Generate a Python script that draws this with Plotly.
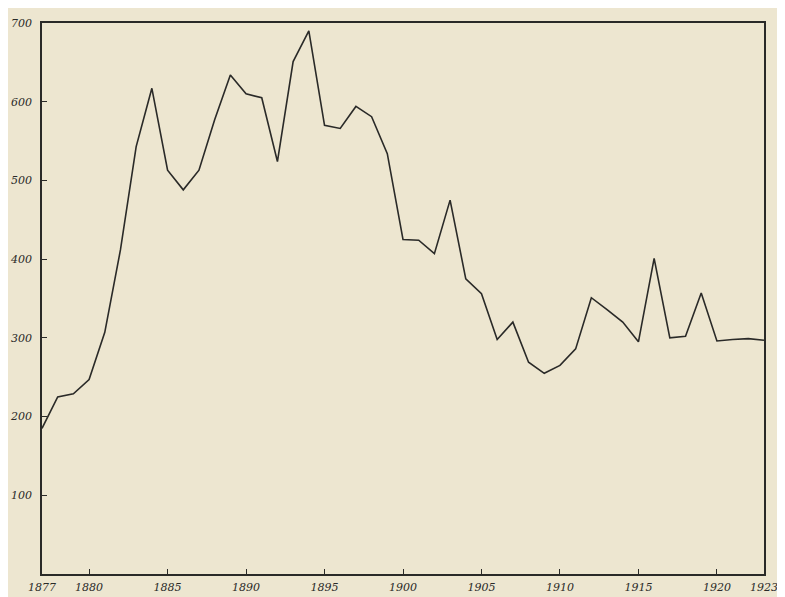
import plotly.graph_objects as go

years = list(range(1877, 1924))
values = [185, 225, 229, 247, 307, 412, 543, 617, 513, 488, 513, 577, 634, 610,
          605, 524, 651, 690, 570, 566, 594, 581, 534, 425, 424, 407, 475, 375,
          356, 298, 320, 269, 255, 265, 286, 351, 336, 320, 295, 401, 300, 302,
          357, 296, 298, 299, 297]
x_ticks = [1877, 1880, 1885, 1890, 1895, 1900, 1905, 1910, 1915, 1920, 1923]
x_tick_text = ["1877", "1880", "1885", "1890", "1895", "1900", "1905", "1910",
               "1915", "1920", "1923"]
y_ticks = [100, 200, 300, 400, 500, 600, 700]
y_tick_text = ["100", "200", "300", "400", "500", "600", "700"]

bg = "#ede6d0"
ink = "#2a2a28"

fig = go.Figure()
fig.add_trace(go.Scatter(x=years, y=values, mode="lines",
                         line=dict(color=ink, width=1.6), hoverinfo="skip"))

# page body adds an 8px offset; figure is made slightly larger so the
# cream background covers the whole window, margins compensate
fig.update_layout(
    width=800, height=612,
    paper_bgcolor=bg, plot_bgcolor=bg,
    margin=dict(l=34, r=44, t=15, b=46),
    showlegend=False,
    font=dict(family="DejaVu Serif", color=ink),
)
fig.update_xaxes(
    range=[1877, 1923], tickvals=x_ticks, ticktext=x_tick_text,
    showgrid=False, zeroline=False, showline=True, linecolor=ink, linewidth=1.5,
    mirror=True, ticks="inside", ticklen=5, tickcolor=ink, automargin=False,
    tickfont=dict(family="DejaVu Serif", size=11, style="italic", color=ink),
    ticklabelstandoff=2,
)
fig.update_yaxes(
    range=[0, 700], tickvals=y_ticks, ticktext=y_tick_text,
    showgrid=False, zeroline=False, showline=True, linecolor=ink, linewidth=1.5,
    mirror=True, ticks="inside", ticklen=5, tickcolor=ink, automargin=False,
    tickfont=dict(family="DejaVu Serif", size=11, style="italic", color=ink),
    ticklabelstandoff=6,
)

fig.write_html("out.html")
